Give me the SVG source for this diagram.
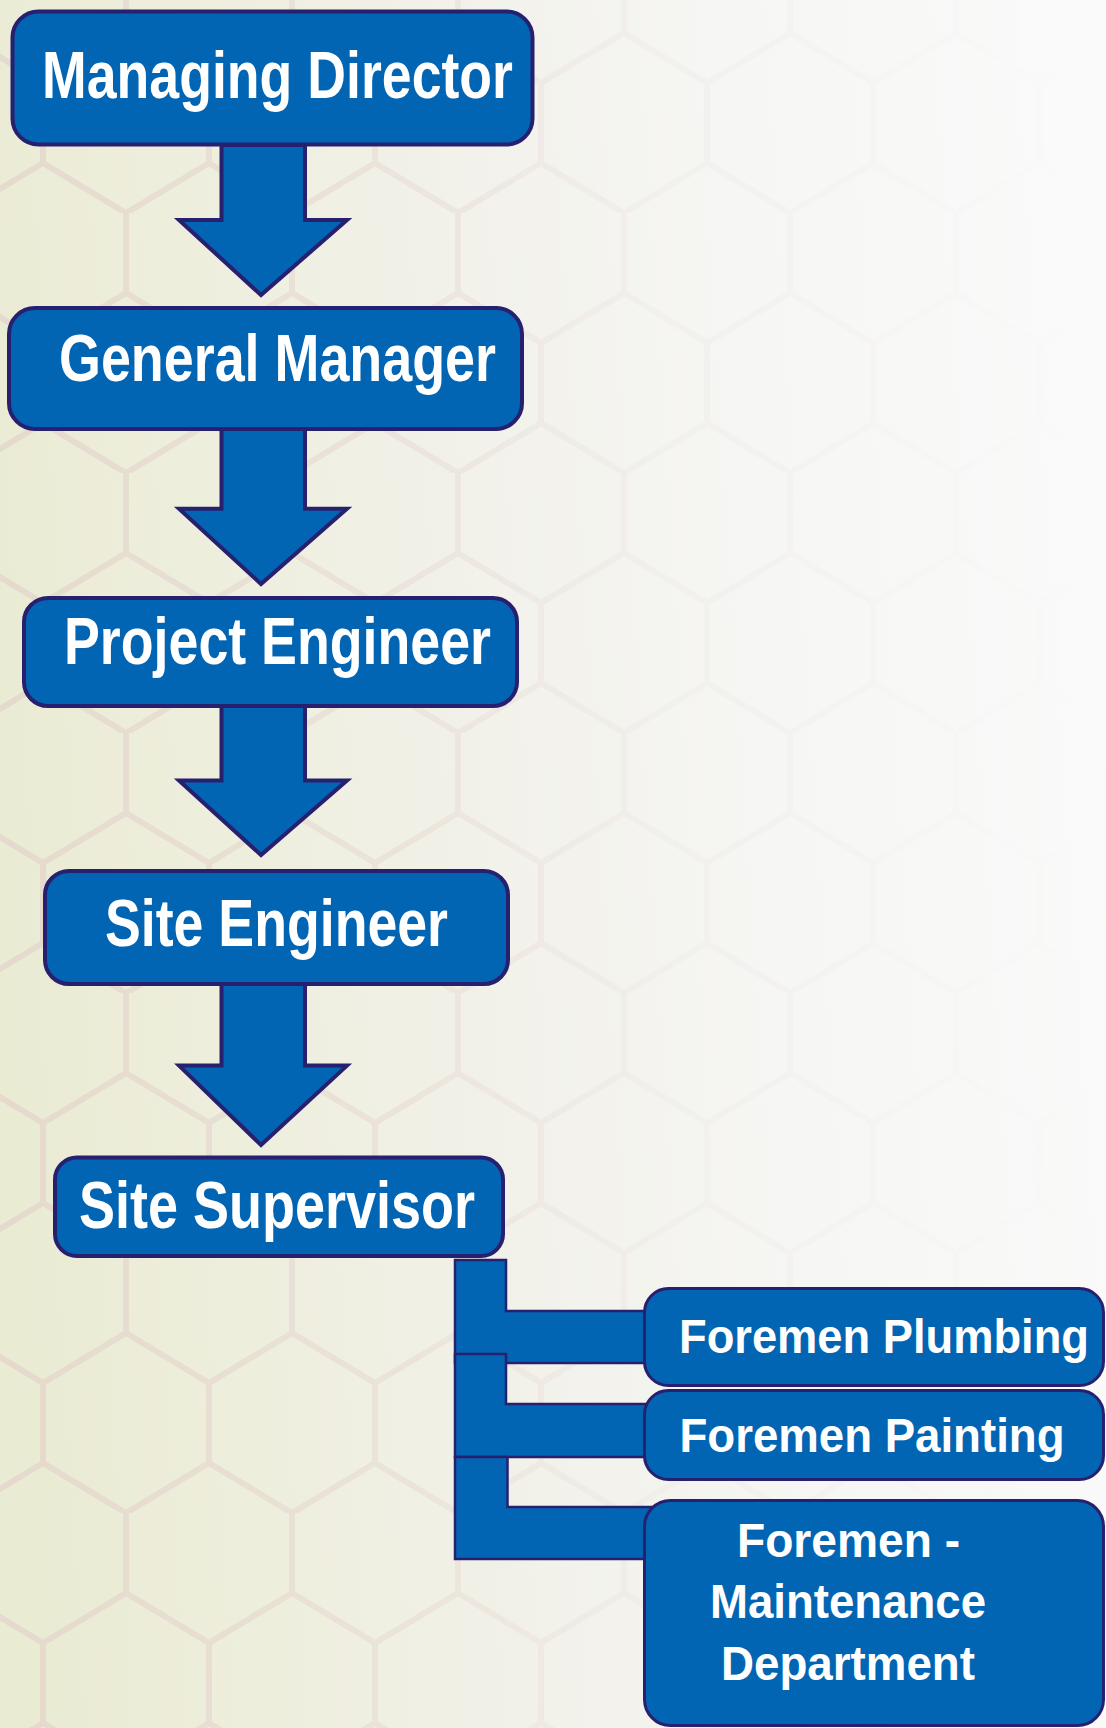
<svg xmlns="http://www.w3.org/2000/svg" width="1106" height="1728" viewBox="0 0 1106 1728">
  <defs>
    <linearGradient id="bg" x1="0" y1="0.55" x2="1" y2="0.45">
      <stop offset="0" stop-color="#eaebd3"/>
      <stop offset="0.2" stop-color="#eeeedd"/>
      <stop offset="0.45" stop-color="#f2f1ea"/>
      <stop offset="0.7" stop-color="#f6f6f4"/>
      <stop offset="1" stop-color="#fafafa"/>
    </linearGradient>
    <linearGradient id="fade" x1="0" y1="0" x2="1" y2="0">
      <stop offset="0" stop-color="#a0a0a0"/>
      <stop offset="0.35" stop-color="#606060"/>
      <stop offset="0.6" stop-color="#1a1a1a"/>
      <stop offset="1" stop-color="#000000"/>
    </linearGradient>
    <mask id="hexmask">
      <rect x="0" y="0" width="1106" height="1728" fill="url(#fade)"/>
    </mask>
    <pattern id="hex" patternUnits="userSpaceOnUse" width="166" height="260" patternTransform="translate(43 213)">
      <path d="M83,0 V80 L0,130 V210 L83,260 M83,80 L166,130 V210 L83,260" fill="none" stroke="#e2cfca" stroke-width="6"/>
    </pattern>
  </defs>
  <style>
    .box { fill: #0265b3; stroke: #26206f; stroke-width: 4; }
    .fbox { fill: #0265b3; stroke: #26206f; stroke-width: 3; }
    .arrow { fill: #0265b3; stroke: #26206f; stroke-width: 4; stroke-linejoin: miter; }
    .elbow { fill: #0265b3; stroke: #26206f; stroke-width: 2.5; }
    .t { font-family: "Liberation Sans", Arial, sans-serif; font-weight: bold; fill: #ffffff; }
    .big { font-size: 66px; }
    .small { font-size: 49px; }
  </style>

  <rect x="0" y="0" width="1106" height="1728" fill="url(#bg)"/>
  <rect x="0" y="0" width="1106" height="1728" fill="url(#hex)" mask="url(#hexmask)"/>

  <g id="connectors">
    <path class="arrow" d="M221.5,145 L305,145 L305,220 L347,220 L261,295 L179,220 L221.5,220 Z"/>
    <path class="arrow" d="M221.5,429 L305,429 L305,508.7 L347,508.7 L261,584 L179,508.7 L221.5,508.7 Z"/>
    <path class="arrow" d="M221.5,706 L305,706 L305,780.6 L347,780.6 L261,855 L179,780.6 L221.5,780.6 Z"/>
    <path class="arrow" d="M221.5,984 L305,984 L305,1065.6 L347,1065.6 L261,1145 L179,1065.6 L221.5,1065.6 Z"/>
    <path class="elbow" d="M455,1260 L506,1260 L506,1311 L660,1311 L660,1363 L455,1363 Z"/>
    <path class="elbow" d="M455,1354 L506,1354 L506,1404 L660,1404 L660,1457 L455,1457 Z"/>
    <path class="elbow" d="M455,1457 L507.5,1457 L507.5,1507 L660,1507 L660,1559 L455,1559 Z"/>
  </g>

  <g id="managing-director">
    <rect class="box" x="12.5" y="11.5" width="520" height="133" rx="26"/>
    <text class="t big" x="42" y="98" textLength="471" lengthAdjust="spacingAndGlyphs">Managing Director</text>
  </g>
  <g id="general-manager">
    <rect class="box" x="9" y="308" width="513" height="121" rx="26"/>
    <text class="t big" x="59" y="381" textLength="437" lengthAdjust="spacingAndGlyphs">General Manager</text>
  </g>
  <g id="project-engineer">
    <rect class="box" x="24" y="598" width="493" height="108" rx="24"/>
    <text class="t big" x="64" y="664" textLength="427" lengthAdjust="spacingAndGlyphs">Project Engineer</text>
  </g>
  <g id="site-engineer">
    <rect class="box" x="45" y="871" width="463" height="113" rx="24"/>
    <text class="t big" x="105" y="946" textLength="343" lengthAdjust="spacingAndGlyphs">Site Engineer</text>
  </g>
  <g id="site-supervisor">
    <rect class="box" x="55" y="1157.5" width="448" height="98.5" rx="22"/>
    <text class="t big" x="79" y="1228" textLength="396" lengthAdjust="spacingAndGlyphs">Site Supervisor</text>
  </g>
  <g id="foremen-plumbing">
    <rect class="fbox" x="644.5" y="1288.5" width="459" height="97" rx="24"/>
    <text class="t small" x="679" y="1353" textLength="410" lengthAdjust="spacingAndGlyphs">Foremen Plumbing</text>
  </g>
  <g id="foremen-painting">
    <rect class="fbox" x="644.5" y="1390.5" width="459" height="89" rx="24"/>
    <text class="t small" x="679.5" y="1452" textLength="385" lengthAdjust="spacingAndGlyphs">Foremen Painting</text>
  </g>
  <g id="foremen-maintenance">
    <rect class="fbox" x="644.5" y="1500.5" width="459" height="225" rx="26"/>
    <text class="t small" text-anchor="middle" x="848.5" y="1557" textLength="223" lengthAdjust="spacingAndGlyphs">Foremen -</text>
    <text class="t small" text-anchor="middle" x="848" y="1618" textLength="276" lengthAdjust="spacingAndGlyphs">Maintenance</text>
    <text class="t small" text-anchor="middle" x="848" y="1680" textLength="254" lengthAdjust="spacingAndGlyphs">Department</text>
  </g>
</svg>
